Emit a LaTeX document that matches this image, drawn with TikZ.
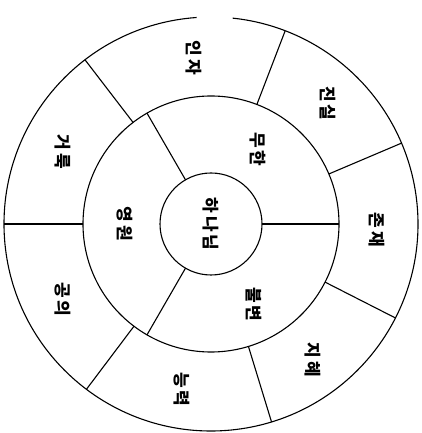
\documentclass[tikz,border=0pt]{standalone}
\usepackage{fontspec}
\newfontfamily\kr{Noto Sans CJK KR}
\newcommand\gapk{\hspace{3pt}}
\tikzset{
  ring/.style={draw=black, line width=1.1pt},
  divider/.style={draw=black, line width=1.1pt},
  lbl/.style={font=\kr\bfseries\fontsize{17}{17}\selectfont, rotate=-90, inner sep=0pt},
  core/.style={circle, draw=black, line width=1.1pt, minimum size=102pt, inner sep=0pt, rotate=-90, font=\kr\bfseries\fontsize{17}{17}\selectfont}
}
\begin{document}
\begin{tikzpicture}[x=1pt,y=1pt]
\useasboundingbox[fill=white] (0,0) rectangle (421,433);
\coordinate (C) at (211,209);
% center
\node[core] (god) at (C) {하\gapk 나\gapk 님};
% middle ring
\draw[ring] (C) circle[radius=128];
% outer ring with small gap at top
\draw[ring] ([shift={(94:207)}]C) arc[start angle=94, end angle=444, radius=207];
% middle ring dividers
\foreach \a/\n in {0/m1,120/m2,240/m3}{
  \coordinate (\n i) at ([shift={(\a:51)}]C);
  \coordinate (\n o) at ([shift={(\a:128)}]C);
  \draw[divider] (\n i) -- (\n o);
}
% outer ring dividers
\foreach \a/\n in {180/o1,127.5/o2,69/o3,23/o4,-27/o5,-73/o6,-127/o7}{
  \coordinate (\n i) at ([shift={(\a:128)}]C);
  \coordinate (\n o) at ([shift={(\a:207)}]C);
  \draw[divider] (\n i) -- (\n o);
}
% middle labels
\node[lbl] (muhan) at ([shift={(58:88)}]C) {무\gapk 한};
\node[lbl] (yeongwon) at ([shift={(180:86)}]C) {영\gapk 원};
\node[lbl] (bulbyeon) at ([shift={(-62:91)}]C) {불\gapk 변};
% outer labels
\node[lbl] (inja) at ([shift={(96:167)}]C) {인\gapk 자};
\node[lbl] (jinsil) at ([shift={(46:168)}]C) {진\gapk 실};
\node[lbl] (jonjae) at ([shift={(-2:166)}]C) {존\gapk 재};
\node[lbl] (jihye) at ([shift={(-53:170)}]C) {지\gapk 혜};
\node[lbl] (neungryeok) at ([shift={(-100:168)}]C) {능\gapk 력};
\node[lbl] (gongui) at ([shift={(-153:166)}]C) {공\gapk 의};
\node[lbl] (georuk) at ([shift={(154:165)}]C) {거\gapk 룩};
\end{tikzpicture}
\end{document}
